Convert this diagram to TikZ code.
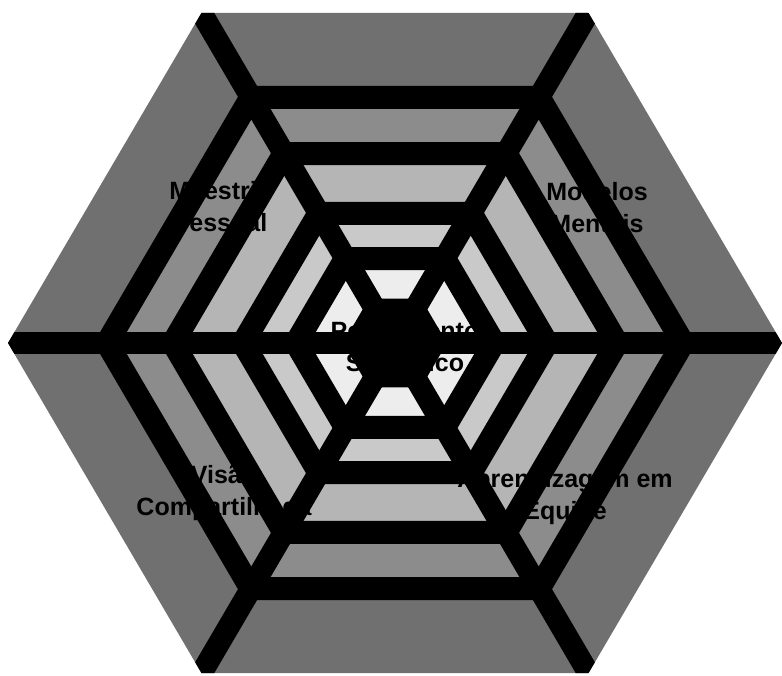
\documentclass[tikz,border=0pt]{standalone}
\usepackage{fontspec}
\setmainfont{Liberation Sans}
\definecolor{bandA}{gray}{0.44}
\definecolor{bandB}{gray}{0.55}
\definecolor{bandC}{gray}{0.71}
\definecolor{bandD}{gray}{0.79}
\definecolor{bandE}{gray}{0.93}
\tikzset{
  ring/.style={draw=black, line width=23pt, line join=miter},
  spoke/.style={draw=black, line width=22pt, line cap=butt},
  txt/.style={font=\bfseries\fontsize{25}{32}\selectfont, align=center, text=black, inner sep=0pt},
}
\newcommand\hexpath[1]{(0:#1) -- (60:#1) -- (120:#1) -- (180:#1) -- (240:#1) -- (300:#1) -- cycle}
\begin{document}
\begin{tikzpicture}[x=1pt,y=-1pt]
\useasboundingbox (0,0) rectangle (782,675);
\begin{scope}[shift={(395,343)}, yscale=0.985]
  \fill[bandA] \hexpath{387};
  \fill[bandB] \hexpath{288};
  \fill[bandC] \hexpath{222};
  \fill[bandD] \hexpath{152};
  \fill[bandE] \hexpath{99};
  \foreach \r in {288,222,152,99} \draw[ring] \hexpath{\r};
  \fill[black] \hexpath{52};
  \coordinate (c) at (0,0);
  \foreach \a [count=\i] in {0,60,...,300} \coordinate (v\i) at (\a:387);
  \begin{scope}
    \clip \hexpath{387};
    \foreach \i in {1,...,6} \draw[spoke] (c) -- (v\i);
  \end{scope}
\end{scope}
\node[txt] (t1) at (220,207) {Maestria\\Pessoal};
\node[txt] (t2) at (597,208) {Modelos\\Mentais};
\node[txt] (t3) at (405,347) {Pensamento\\Sistêmico};
\node[txt] (t4) at (224,493) {Visão\\Compartilhada};
\node[txt] (t5) at (565,497) {Aprendizagem em\\Equipe};
\end{tikzpicture}
\end{document}
